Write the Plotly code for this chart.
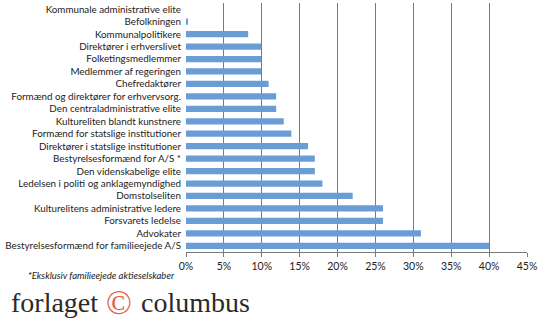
import plotly.graph_objects as go

categories = [
    "Kommunale administrative elite",
    "Befolkningen",
    "Kommunalpolitikere",
    "Direktører i erhverslivet",
    "Folketingsmedlemmer",
    "Medlemmer af regeringen",
    "Chefredaktører",
    "Formænd og direktører for erhvervsorg.",
    "Den centraladministrative elite",
    "Kultureliten blandt kunstnere",
    "Formænd for statslige institutioner",
    "Direktører i statslige institutioner",
    "Bestyrelsesformænd for A/S *",
    "Den videnskabelige elite",
    "Ledelsen i politi og anklagemyndighed",
    "Domstolseliten",
    "Kulturelitens administrative ledere",
    "Forsvarets ledelse",
    "Advokater",
    "Bestyrelsesformænd for familieejede A/S",
]
values = [0.0, 0.2, 8.2, 9.9, 9.9, 9.9, 10.9, 11.9, 11.9, 12.9,
          13.9, 16.1, 17.0, 17.0, 18.0, 22.0, 26.0, 26.0, 31.0, 40.0]
tick_vals = [0, 5, 10, 15, 20, 25, 30, 35, 40, 45]
tick_text = [f"{v}%" for v in tick_vals]

FONT = "Lato"
L, R, T, B = 186, 23, 3, 71
PW, PH = 550 - L - R, 323 - T - B


def px_x(px):
    return (px - L) / PW


def px_y(py):
    return (323 - B - py) / PH


fig = go.Figure(go.Bar(
    x=values, y=categories, orientation="h",
    marker=dict(color="#6a9cd6", line=dict(width=0)),
    hoverinfo="skip",
))

fig.update_layout(
    width=550, height=323,
    margin=dict(l=L, r=R, t=T, b=B, autoexpand=False),
    paper_bgcolor="white", plot_bgcolor="white",
    bargap=0.5,
    showlegend=False,
    font=dict(family=FONT, size=10, color="#222"),
    xaxis=dict(
        range=[0, 45], tickvals=tick_vals, ticktext=tick_text,
        showgrid=True, gridcolor="#7a7a7a", gridwidth=1,
        zeroline=False, showline=True, linecolor="#7a7a7a", linewidth=1,
        ticks="outside", ticklen=4, tickcolor="#7a7a7a",
        tickfont=dict(family=FONT, size=10.5, color="#222"),
        fixedrange=True, automargin=False,
    ),
    yaxis=dict(
        autorange="reversed", showgrid=False, zeroline=False,
        tickmode="array", tickvals=categories, ticktext=categories,
        showline=False, ticks="", ticklabelstandoff=4,
        tickfont=dict(family=FONT, size=9.8, color="#222"),
        fixedrange=True, automargin=False,
    ),
    annotations=[
        dict(text="<i>*Eksklusiv familieejede aktieselskaber</i>",
             xref="paper", yref="paper", x=px_x(26), y=px_y(275),
             xanchor="left", yanchor="middle", showarrow=False,
             font=dict(family=FONT, size=9.5, color="#222")),
        dict(text="forlaget",
             xref="paper", yref="paper", x=px_x(9), y=px_y(303),
             xanchor="left", yanchor="middle", showarrow=False,
             font=dict(family="Liberation Serif", size=28, color="#2a2a2a")),
        dict(text="©",
             xref="paper", yref="paper", x=px_x(119), y=px_y(303),
             xanchor="center", yanchor="middle", showarrow=False,
             font=dict(family="Liberation Serif", size=34, color="#e0603f")),
        dict(text="columbus",
             xref="paper", yref="paper", x=px_x(139), y=px_y(303),
             xanchor="left", yanchor="middle", showarrow=False,
             font=dict(family="Liberation Serif", size=28, color="#2a2a2a")),
    ],
)

fig.write_html("out.html")
